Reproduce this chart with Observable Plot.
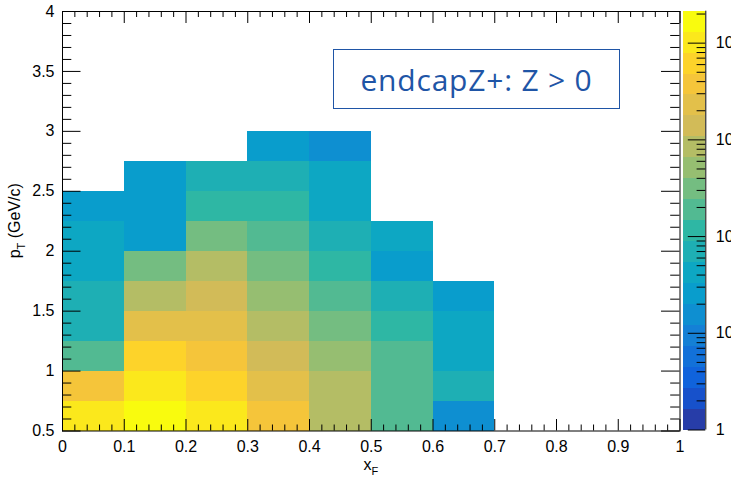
<!DOCTYPE html>
<html>
<head>
<meta charset="utf-8">
<script src="https://cdn.jsdelivr.net/npm/d3@7"></script>
<script src="https://cdn.jsdelivr.net/npm/@observablehq/plot@0.6"></script>
<style>
  html, body { margin: 0; padding: 0; background: white; overflow: hidden; }
  #wrap { position: relative; width: 731px; height: 479px; overflow: hidden; }
  #wrap svg { position: absolute; left: 0; top: 0; }
  #note {
    position: absolute; left: 333px; top: 49px; width: 285px; height: 58px;
    border: 1.7px solid #1f55a6; display: flex; align-items: center; justify-content: center;
    font-family: "Open Sans", sans-serif; font-size: 30px; color: #1f55a6; letter-spacing: 0.8px;
    background: white; white-space: nowrap;
  }
</style>
</head>
<body>
<div id="wrap"></div>
<script>
// ---- data: counts per x_F column, listed from pT = 0.5 upward in 0.25 GeV/c bins ----
const xFBinLow = [0, 0.1, 0.2, 0.3, 0.4, 0.5, 0.6];
const xFBinWidth = 0.1;
const pTStart = 0.5;
const pTBinWidth = 0.25;
const countsXF00 = [10500, 3600, 190, 72, 66, 44, 40, 26];
const countsXF01 = [17000, 9800, 6100, 2300, 850, 300, 25, 24, 26];
const countsXF02 = [10200, 6400, 3800, 2200, 1400, 820, 320, 115, 68];
const countsXF03 = [3700, 2300, 1350, 860, 520, 310, 185, 112, 70, 25];
const countsXF04 = [880, 800, 500, 300, 190, 110, 68, 42, 40, 15];
const countsXF05 = [195, 180, 170, 115, 70, 26, 43];
const countsXF06 = [15, 68, 42, 40, 25];

// ---- axes / tick labels ----
const xMajorTicks = [0, 0.1, 0.2, 0.3, 0.4, 0.5, 0.6, 0.7, 0.8, 0.9, 1];
const yMajorTicks = [0.5, 1, 1.5, 2, 2.5, 3, 3.5, 4];
const zMajorTicks = [1, 10, 100, 1000, 10000];
const zMin = 1;
const zMax = 21400;
const nContours = 20;

// ---- ROOT kBird palette stops ----
const birdStops = [0, 0.125, 0.25, 0.375, 0.5, 0.625, 0.75, 0.875, 1];
const birdRed   = [0.2082, 0.0592, 0.0780, 0.0232, 0.1802, 0.5301, 0.8186, 0.9956, 0.9764];
const birdGreen = [0.1664, 0.3599, 0.5041, 0.6419, 0.7178, 0.7492, 0.7328, 0.7862, 0.9832];
const birdBlue  = [0.5293, 0.8684, 0.8385, 0.7914, 0.6425, 0.4662, 0.3499, 0.1968, 0.0539];

const birdScale = d3.scaleLinear()
  .domain(birdStops)
  .range(birdStops.map((_, i) => d3.rgb(birdRed[i] * 255, birdGreen[i] * 255, birdBlue[i] * 255).toString()))
  .interpolate(d3.interpolateRgb);

const logMax = Math.log10(zMax) - Math.log10(zMin);
const levels = d3.range(nContours + 1).map(i => Math.pow(10, Math.log10(zMin) + i * logMax / nContours));
const thresholds = levels.slice(1, nContours);
const bandColors = d3.range(nContours).map(i => birdScale(Math.floor((i + 0.99) * 255 / nContours) / 254));
const colorSpec = {type: "threshold", domain: thresholds, range: bandColors, legend: false};

// ---- build cell table ----
const columns = [countsXF00, countsXF01, countsXF02, countsXF03, countsXF04, countsXF05, countsXF06];
const cells = [];
columns.forEach((col, c) => col.forEach((n, r) => cells.push({
  x1: xFBinLow[c], x2: xFBinLow[c] + xFBinWidth,
  y1: pTStart + r * pTBinWidth, y2: pTStart + (r + 1) * pTBinWidth, n
})));

const xMinorTicks = d3.range(0, 51).map(d => d / 50).filter(d => !xMajorTicks.some(m => Math.abs(m - d) < 1e-9));
const yMinorTicks = d3.range(5, 41).map(d => d / 10).filter(d => !yMajorTicks.some(m => Math.abs(m - d) < 1e-9));
const zMinorTicks = [];
zMajorTicks.forEach(dec => { for (let k = 2; k <= 9; k++) if (dec * k <= zMax) zMinorTicks.push(dec * k); });
const colorbarBands = d3.range(nContours).map(i => ({lo: levels[i], hi: levels[i + 1], mid: Math.sqrt(levels[i] * levels[i + 1])}));

// ---- layout ----
const W = 731, H = 479;
const mL = 62, mR = 51.5, mT = 11, mB = 48.5;
const innerW = W - mL - mR, innerH = H - mT - mB;
const font = "'Liberation Sans', Arial, Helvetica, sans-serif";

const main = Plot.plot({
  width: W, height: H,
  marginLeft: mL, marginRight: mR, marginTop: mT, marginBottom: mB,
  style: {fontFamily: font, fontSize: "16px", background: "white", color: "black"},
  x: {domain: [0, 1]},
  y: {domain: [0.5, 4]},
  color: colorSpec,
  marks: [
    Plot.rect(cells, {x1: "x1", x2: "x2", y1: "y1", y2: "y2", fill: "n", shapeRendering: "crispEdges"}),
    Plot.ruleX(xMajorTicks, {x: d => d, insetTop: innerH - 11.5, stroke: "black"}),
    Plot.ruleX(xMinorTicks, {x: d => d, insetTop: innerH - 6, stroke: "black"}),
    Plot.ruleX(xMajorTicks, {x: d => d, insetBottom: innerH - 12, stroke: "black"}),
    Plot.ruleX(xMinorTicks, {x: d => d, insetBottom: innerH - 6, stroke: "black"}),
    Plot.ruleY(yMajorTicks, {y: d => d, insetRight: innerW - 18.5, stroke: "black"}),
    Plot.ruleY(yMinorTicks, {y: d => d, insetRight: innerW - 9.3, stroke: "black"}),
    Plot.ruleY(yMajorTicks, {y: d => d, insetLeft: innerW - 18.5, stroke: "black"}),
    Plot.ruleY(yMinorTicks, {y: d => d, insetLeft: innerW - 9.3, stroke: "black"}),
    Plot.frame({stroke: "black"}),
    Plot.axisX({ticks: xMajorTicks, tickSize: 0, tickPadding: 10, tickFormat: d => String(d), label: null}),
    Plot.axisY({ticks: yMajorTicks, tickSize: 0, tickPadding: 8, tickFormat: d => String(d), label: null})
  ]
});

const sup = {"0": "\u2070", "1": "\u00b9", "2": "\u00b2", "3": "\u00b3", "4": "\u2074", "5": "\u2075"};
const zFormat = d => {
  const e = Math.round(Math.log10(d));
  if (e === 0) return "1";
  if (e === 1) return "10";
  return "10" + String(e).split("").map(ch => sup[ch]).join("");
};

const barLeft = 683.3, barRight = 705.3, barW = barRight - barLeft;
const colorbar = Plot.plot({
  width: W, height: H,
  marginLeft: barLeft, marginRight: W - barRight, marginTop: 10.7, marginBottom: 49.5,
  style: {fontFamily: font, fontSize: "16px", background: "transparent", color: "black"},
  x: {domain: [0, 1], axis: null},
  y: {type: "log", domain: [zMin, zMax]},
  color: colorSpec,
  marks: [
    Plot.rect(colorbarBands, {y1: "lo", y2: "hi", fill: "mid", shapeRendering: "crispEdges"}),
    Plot.ruleY(zMajorTicks, {y: d => d, insetLeft: barW - 17.5, stroke: "black"}),
    Plot.ruleY(zMinorTicks, {y: d => d, insetLeft: barW - 8.7, stroke: "black"}),
    Plot.ruleX([1], {x: d => d, stroke: "black"}),
    Plot.axisY({anchor: "right", ticks: zMajorTicks, tickSize: 0, tickPadding: 10, tickFormat: zFormat, label: null})
  ]
});

// axis titles with subscripts
const svg = d3.select(main);
const xt = svg.append("text")
  .attr("x", mL + innerW / 2).attr("y", 470)
  .attr("text-anchor", "middle").attr("font-size", 16).attr("fill", "black");
xt.append("tspan").text("x");
xt.append("tspan").attr("font-size", 11).attr("dy", 5).text("F");

const yt = svg.append("text")
  .attr("transform", `translate(20,${mT + innerH / 2}) rotate(-90)`)
  .attr("text-anchor", "middle").attr("font-size", 16).attr("fill", "black");
yt.append("tspan").text("p");
yt.append("tspan").attr("font-size", 11).attr("dy", 5).text("T");
yt.append("tspan").attr("dy", -5).text(" (GeV/c)");

const wrap = document.getElementById("wrap");
wrap.appendChild(main);
wrap.appendChild(colorbar);
const note = document.createElement("div");
note.id = "note";
note.textContent = "endcapZ+: Z > 0";
wrap.appendChild(note);
</script>
</body>
</html>
